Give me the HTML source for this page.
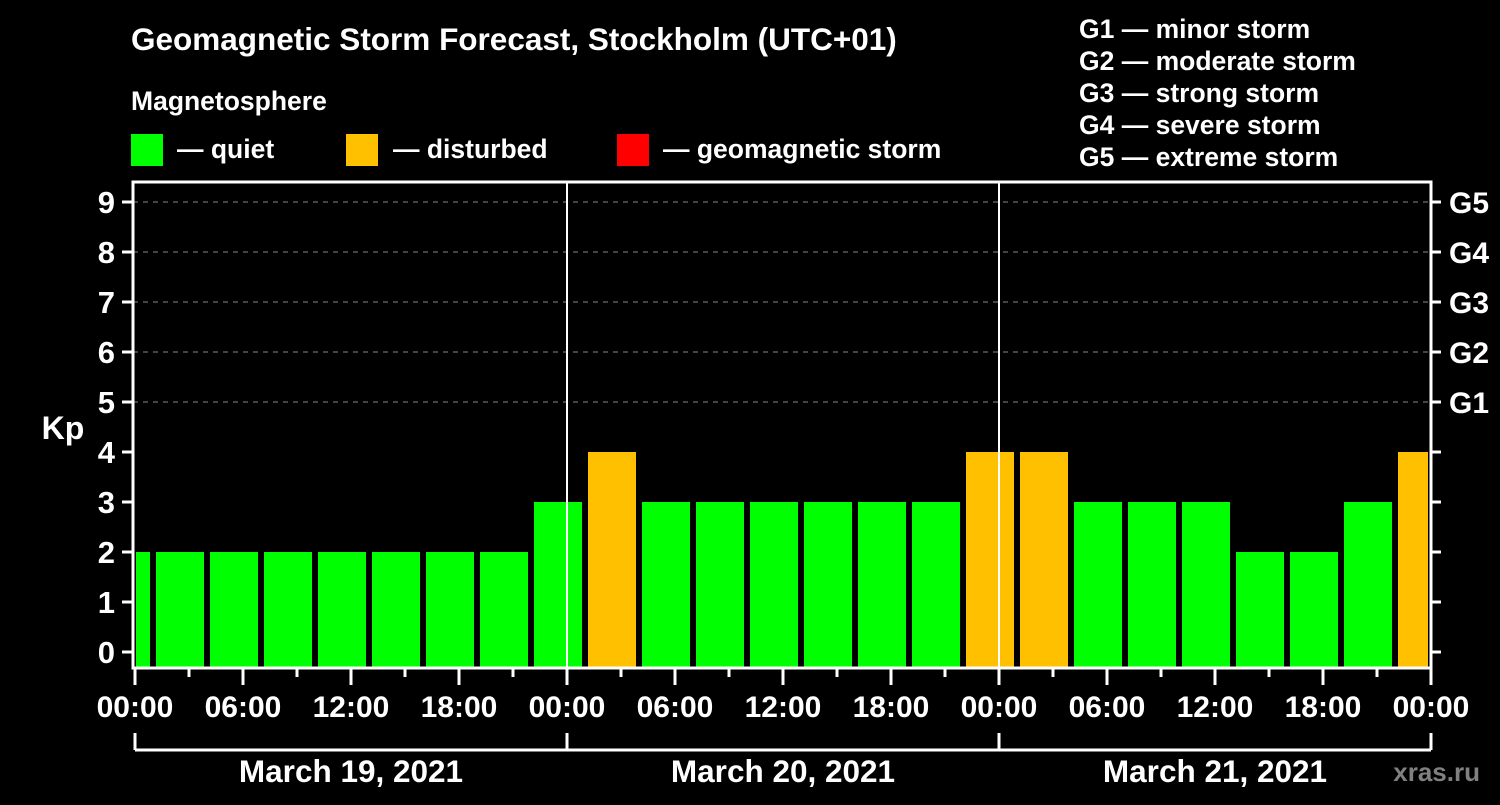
<!DOCTYPE html>
<html><head><meta charset="utf-8"><style>
body{margin:0;background:#000;width:1500px;height:800px;overflow:hidden;font-family:"Liberation Sans",sans-serif;font-weight:bold;color:#fff}
</style></head><body>
<svg id="chart" width="1500" height="800" xmlns="http://www.w3.org/2000/svg" font-family="Liberation Sans, sans-serif" font-weight="bold" fill="#fff">
<text x="131" y="50" font-size="31.5">Geomagnetic Storm Forecast, Stockholm (UTC+01)</text>
<text x="131" y="110" font-size="26.5">Magnetosphere</text>
<rect x="131" y="134" width="32" height="32" fill="#00ff00"/>
<text x="177" y="158" font-size="26.5">— quiet</text>
<rect x="346" y="134" width="32" height="32" fill="#ffc000"/>
<text x="393" y="158" font-size="26.5">— disturbed</text>
<rect x="617" y="134" width="32" height="32" fill="#ff0000"/>
<text x="663" y="158" font-size="26.5">— geomagnetic storm</text>
<g font-size="26.5">
<text x="1079" y="38">G1 — minor storm</text>
<text x="1079" y="70">G2 — moderate storm</text>
<text x="1079" y="102">G3 — strong storm</text>
<text x="1079" y="134">G4 — severe storm</text>
<text x="1079" y="166">G5 — extreme storm</text>
</g>
<text x="63" y="439" font-size="32" text-anchor="middle">Kp</text>
<text x="1480" y="781" font-size="26" fill="#808080" text-anchor="end">xras.ru</text>
<g id="plot"></g>
</svg>
<script>
const kpValues=[2,2,2,2,2,2,2,2,3,4,3,3,3,3,3,3,4,4,3,3,3,2,2,3,4];
const yTicks=[0,1,2,3,4,5,6,7,8,9];
const gLabels=["G1","G2","G3","G4","G5"];
const gLevels=[5,6,7,8,9];
const hourLabels=["00:00","06:00","12:00","18:00","00:00","06:00","12:00","18:00","00:00","06:00","12:00","18:00","00:00"];
const dayLabels=["March 19, 2021","March 20, 2021","March 21, 2021"];

const X0=133,X1=1431,Y0=182,Y1=668;
const hx=h=>135+18*h;
const vy=v=>652-50*v;
const ns="http://www.w3.org/2000/svg";
const g=document.getElementById('plot');
function mk(t,a,p){const e=document.createElementNS(ns,t);for(const k in a)e.setAttribute(k,a[k]);(p||g).appendChild(e);return e;}
gLevels.forEach((v,i)=>{
 const l=mk('line',{x1:X0,x2:X1,y1:vy(v),y2:vy(v),stroke:'#888','stroke-width':1,'stroke-dasharray':'5,5'});
 
 
 const t=mk('text',{x:1449,y:vy(v)+11,'font-size':30});t.textContent=gLabels[i];
 
 
});
kpValues.forEach((v,i)=>{
 const s=hx(3*i-2), e=hx(3*i+1);
 const a=Math.max(s+3,X0+3), b=Math.min(e-3,X1-3);
 const r=mk('rect',{x:a,y:vy(v),width:b-a,height:667-vy(v),fill:v>=5?'#ff0000':(v>=4?'#ffc000':'#00ff00')});
 
 
});
[1,2].forEach(d=>{const l=mk('line',{x1:hx(24*d),x2:hx(24*d),y1:Y0,y2:Y1,stroke:'#fff','stroke-width':2});
 
 });
const f=mk('rect',{x:X0,y:Y0,width:X1-X0,height:Y1-Y0,fill:'none',stroke:'#fff','stroke-width':3});


yTicks.forEach(v=>{
 mk('line',{x1:122,x2:X0,y1:vy(v),y2:vy(v),stroke:'#fff','stroke-width':3});
 mk('line',{x1:X1,x2:1441,y1:vy(v),y2:vy(v),stroke:'#fff','stroke-width':3});
 const t=mk('text',{x:115,y:vy(v)+11,'font-size':31,'text-anchor':'end'});t.textContent=v;
 
 
});
for(let h=0;h<=72;h+=3){
 const len=h%6===0?17:9;
 mk('line',{x1:hx(h),x2:hx(h),y1:Y1,y2:Y1+len,stroke:'#fff','stroke-width':3});
}
hourLabels.forEach((s,i)=>{
 const t=mk('text',{x:hx(6*i),y:717,'font-size':30,'text-anchor':'middle'});t.textContent=s;
 
 
});
mk('line',{x1:hx(0),x2:hx(72),y1:750,y2:750,stroke:'#fff','stroke-width':3});
[0,1,2,3].forEach(d=>mk('line',{x1:hx(24*d),x2:hx(24*d),y1:733,y2:750,stroke:'#fff','stroke-width':3}));
dayLabels.forEach((s,i)=>{
 const t=mk('text',{x:hx(24*i+12),y:782,'font-size':31.5,'text-anchor':'middle'});t.textContent=s;
 
 
});
</script>
</body></html>
